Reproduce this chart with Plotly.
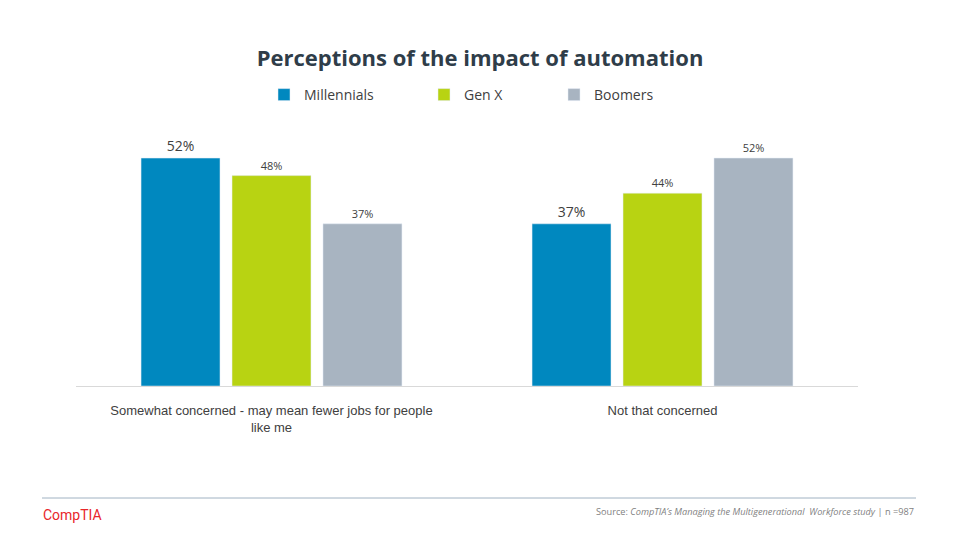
import plotly.graph_objects as go

categories = ["Somewhat concerned - may mean fewer jobs for people<br>like me", "Not that concerned"]
series_names = ["Millennials", "Gen X", "Boomers"]
millennials = [52, 37]
gen_x = [48, 44]
boomers = [37, 52]
colors = ["#0088BF", "#B8D312", "#A8B4C1"]
label_sizes = [14, 11, 11]
legend_x_px = [264, 424, 554]

W, H = 960, 540
L, R, T, B = 76, 102, 123, 154
pw, ph = W - L - R, H - T - B

def px_x(px):
    return (px - L) / pw

def px_y(py):
    return (H - B - py) / ph

fig = go.Figure()
for i, (name, vals) in enumerate(zip(series_names, [millennials, gen_x, boomers])):
    lg = "legend" if i == 0 else f"legend{i+1}"
    fig.add_trace(go.Bar(
        x=categories, y=vals, name=name, marker_color=colors[i],
        text=[f"{v}%" for v in vals], textposition="outside",
        textfont=dict(size=label_sizes[i], color="#404040", family="Open Sans"),
        cliponaxis=False, legend=lg, hoverinfo="skip",
    ))

legend_common = dict(orientation="h", xref="container", yref="container",
                     yanchor="middle", font=dict(size=14, color="#404040", family="Open Sans"),
                     bgcolor="rgba(0,0,0,0)", itemwidth=30)
layout_legends = {}
for i, xp in enumerate(legend_x_px):
    key = "legend" if i == 0 else f"legend{i+1}"
    layout_legends[key] = dict(legend_common, x=xp / W, y=1 - 95 / H, xanchor="left")

fig.update_layout(
    width=W, height=H,
    margin=dict(l=L, r=R, t=T, b=B),
    paper_bgcolor="white", plot_bgcolor="white",
    title=dict(text="<b>Perceptions of the impact of automation</b>", x=0.5, xref="container",
               y=1 - 58 / H, yref="container", yanchor="middle", xanchor="center",
               font=dict(size=22, color="#2F3D49", family="Open Sans")),
    barmode="group", bargap=0.302, bargroupgap=0.132,
    showlegend=True,
    xaxis=dict(showline=True, linecolor="#D9D9D9", linewidth=1, ticks="",
               ticklabelstandoff=12,
               tickfont=dict(size=13, color="#404040", family="Liberation Sans"),
               showgrid=False, zeroline=False),
    yaxis=dict(range=[0, 60], visible=False, showgrid=False, zeroline=False),
    **layout_legends,
)

fig.add_shape(type="line", xref="paper", yref="paper",
              x0=px_x(42), x1=px_x(916), y0=px_y(498), y1=px_y(498),
              line=dict(color="#A0B2C2", width=1))
fig.add_annotation(xref="paper", yref="paper", x=px_x(41), y=px_y(515), xanchor="left", yanchor="middle",
                   text="CompTIA", showarrow=False,
                   font=dict(size=14, color="#E8262B", family="Roboto"))
fig.add_annotation(xref="paper", yref="paper", x=px_x(916), y=px_y(511), xanchor="right", yanchor="middle",
                   text="Source: <i>CompTIA\u2019s Managing the Multigenerational  Workforce study</i> | n =987",
                   showarrow=False, font=dict(size=9.2, color="#7F7F7F", family="Open Sans"))

fig.write_html("out.html", config={"displayModeBar": False},
               post_script="document.body.style.margin='0px';")
